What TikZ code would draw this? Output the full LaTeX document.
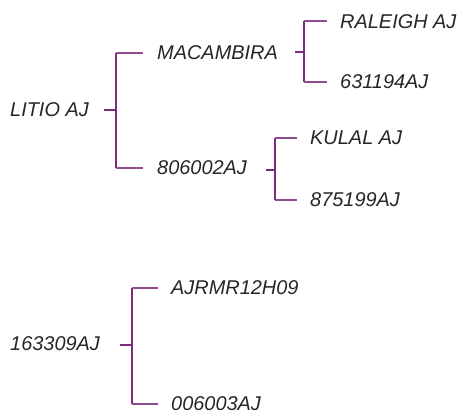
\documentclass[tikz,border=0pt]{standalone}
\usepackage{fontspec}
\setmainfont{Liberation Sans}
\begin{document}
\begin{tikzpicture}[x=1bp,y=-1bp,
  lbl/.style={inner sep=0pt,font=\fontsize{20}{24}\selectfont\itshape,text=black!85},
  trunk/.style={draw=purp,line width=1.8bp},
  branch/.style={draw=purp!85,line width=1.2bp},
  stub/.style={draw=purp,line width=2bp}]
\definecolor{purp}{HTML}{7B2A80}
\useasboundingbox (0,0) rectangle (459,409);
% tree 1
\node[lbl,anchor=west] (litio) at (10,110) {LITIO AJ};
\coordinate (s1a) at (104,110); \coordinate (s1b) at (116,110);
\coordinate (t1a) at (116,53); \coordinate (t1b) at (116,168);
\node[lbl,anchor=west] (mac) at (157,53) {MACAMBIRA};
\node[lbl,anchor=west] (n806) at (157,168) {806002AJ};
\draw[stub] (s1a) -- (s1b);
\draw[trunk] (t1a) -- (t1b);
\draw[branch] (t1a) -- ([xshift=-14bp]mac.west);
\draw[branch] (t1b) -- ([xshift=-14bp]n806.west);
% macambira
\coordinate (s2a) at (295,52); \coordinate (s2b) at (304,52);
\coordinate (t2a) at (304,21); \coordinate (t2b) at (304,82);
\node[lbl,anchor=west] (ral) at (340,22) {RALEIGH AJ};
\node[lbl,anchor=west] (n631) at (340,82) {631194AJ};
\draw[stub] (s2a) -- (s2b);
\draw[trunk] (t2a) -- (t2b);
\draw[branch] (t2a) -- ([xshift=-13bp]ral.west |- t2a);
\draw[branch] (t2b) -- ([xshift=-13bp]n631.west |- t2b);
% 806002
\coordinate (s3a) at (266,170); \coordinate (s3b) at (275,170);
\coordinate (t3a) at (275,138); \coordinate (t3b) at (275,200);
\node[lbl,anchor=west] (kul) at (310,138) {KULAL AJ};
\node[lbl,anchor=west] (n875) at (310,200) {875199AJ};
\draw[stub] (s3a) -- (s3b);
\draw[trunk] (t3a) -- (t3b);
\draw[branch] (t3a) -- ([xshift=-13bp]kul.west);
\draw[branch] (t3b) -- ([xshift=-13bp]n875.west);
% tree 2
\node[lbl,anchor=west] (n163) at (10,344) {163309AJ};
\coordinate (s4a) at (120,345); \coordinate (s4b) at (132,345);
\coordinate (t4a) at (132,288); \coordinate (t4b) at (132,404);
\node[lbl,anchor=west] (ajr) at (171,288) {AJRMR12H09};
\node[lbl,anchor=west] (n006) at (171,404) {006003AJ};
\draw[stub] (s4a) -- (s4b);
\draw[trunk] (t4a) -- (t4b);
\draw[branch] (t4a) -- ([xshift=-13bp]ajr.west);
\draw[branch] (t4b) -- ([xshift=-13bp]n006.west);
\end{tikzpicture}
\end{document}
